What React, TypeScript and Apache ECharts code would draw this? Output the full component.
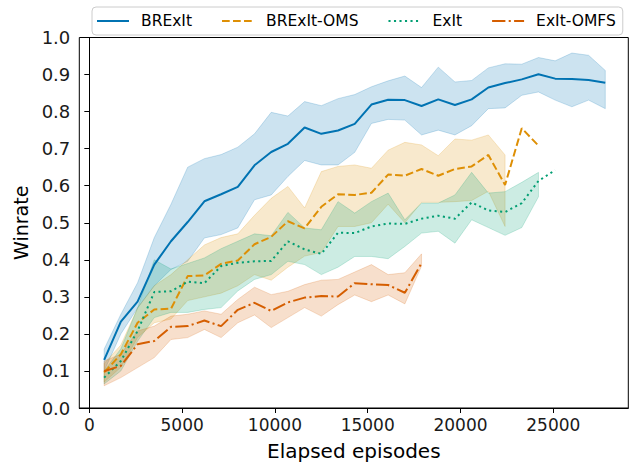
import React, { useEffect, useRef } from "react";
import * as echarts from "echarts";

const EPISODES = [800, 1700, 2600, 3500, 4400, 5300, 6200, 7100, 8000, 8900, 9800, 10700, 11600, 12500, 13400, 14300, 15200, 16100, 17000, 17900, 18800, 19700, 20600, 21500, 22400, 23300, 24200, 25100, 26000, 26900, 27800];
const X_TICKS = [0, 5000, 10000, 15000, 20000, 25000];

const brexitMean = [0.130, 0.233, 0.287, 0.387, 0.450, 0.502, 0.558, 0.577, 0.597, 0.655, 0.691, 0.713, 0.757, 0.740, 0.749, 0.767, 0.819, 0.832, 0.831, 0.815, 0.833, 0.818, 0.833, 0.865, 0.877, 0.887, 0.901, 0.889, 0.888, 0.885, 0.878];
const brexitLo = [0.100, 0.200, 0.270, 0.330, 0.374, 0.396, 0.459, 0.468, 0.486, 0.562, 0.575, 0.625, 0.668, 0.656, 0.656, 0.690, 0.768, 0.779, 0.777, 0.737, 0.750, 0.737, 0.762, 0.808, 0.810, 0.844, 0.853, 0.831, 0.813, 0.831, 0.808];
const brexitHi = [0.159, 0.253, 0.338, 0.460, 0.550, 0.650, 0.673, 0.684, 0.704, 0.740, 0.798, 0.788, 0.827, 0.816, 0.835, 0.846, 0.867, 0.883, 0.896, 0.865, 0.920, 0.880, 0.884, 0.918, 0.929, 0.928, 0.946, 0.937, 0.958, 0.952, 0.911];

const omsMean = [0.096, 0.145, 0.230, 0.266, 0.268, 0.356, 0.358, 0.389, 0.398, 0.442, 0.462, 0.504, 0.485, 0.543, 0.577, 0.575, 0.581, 0.630, 0.627, 0.645, 0.627, 0.645, 0.652, 0.683, 0.602, 0.755, 0.708];
const omsLo = [0.070, 0.110, 0.190, 0.230, 0.240, 0.290, 0.300, 0.310, 0.330, 0.360, 0.345, 0.380, 0.410, 0.420, 0.490, 0.490, 0.500, 0.550, 0.500, 0.555, 0.555, 0.557, 0.560, 0.585, 0.490];
const omsHi = [0.120, 0.170, 0.270, 0.330, 0.360, 0.400, 0.440, 0.460, 0.470, 0.520, 0.566, 0.598, 0.540, 0.638, 0.652, 0.656, 0.647, 0.696, 0.717, 0.710, 0.681, 0.726, 0.723, 0.737, 0.683];

const exitMean = [0.082, 0.127, 0.208, 0.313, 0.315, 0.341, 0.337, 0.383, 0.392, 0.396, 0.397, 0.450, 0.428, 0.416, 0.473, 0.472, 0.490, 0.498, 0.497, 0.511, 0.519, 0.511, 0.555, 0.533, 0.529, 0.553, 0.613, 0.642];
const exitLo = [0.065, 0.100, 0.180, 0.244, 0.258, 0.258, 0.266, 0.271, 0.316, 0.347, 0.360, 0.396, 0.387, 0.360, 0.380, 0.409, 0.409, 0.403, 0.436, 0.472, 0.477, 0.445, 0.508, 0.487, 0.466, 0.487, 0.570];
const exitHi = [0.100, 0.160, 0.270, 0.400, 0.375, 0.390, 0.405, 0.430, 0.450, 0.470, 0.465, 0.528, 0.486, 0.481, 0.557, 0.526, 0.557, 0.580, 0.508, 0.553, 0.553, 0.575, 0.636, 0.580, 0.584, 0.609, 0.636];

const omfsMean = [0.099, 0.114, 0.172, 0.181, 0.219, 0.221, 0.236, 0.221, 0.265, 0.284, 0.262, 0.285, 0.298, 0.302, 0.301, 0.337, 0.334, 0.332, 0.311, 0.391];
const omfsLo = [0.060, 0.082, 0.109, 0.136, 0.185, 0.190, 0.212, 0.190, 0.230, 0.251, 0.217, 0.244, 0.271, 0.248, 0.279, 0.305, 0.287, 0.305, 0.281, 0.383];
const omfsHi = [0.127, 0.145, 0.208, 0.221, 0.248, 0.253, 0.262, 0.253, 0.293, 0.326, 0.306, 0.315, 0.333, 0.345, 0.347, 0.367, 0.387, 0.360, 0.365, 0.416];

const BLUE = "#0173b2";
const ORANGE = "#de8f05";
const GREEN = "#029e73";
const RED = "#d55e00";
const FONT = "DejaVu Sans";

function band(name: string, lo: number[], hi: number[], color: string) {
  return {
    type: "custom",
    name: name + " band",
    silent: true,
    z: 1,
    data: lo.map((l, i) => [EPISODES[i], l, hi[i]]),
    encode: { x: 0, y: [1, 2] },
    renderItem: (params: any, api: any) => {
      if (params.dataIndex !== 0) return { type: "group", children: [] };
      const top = hi.map((h, i) => api.coord([EPISODES[i], h]));
      const bot = lo.map((l, i) => api.coord([EPISODES[i], l])).reverse();
      return {
        type: "polygon",
        shape: { points: top.concat(bot) },
        style: { fill: color, stroke: color, lineWidth: 1, opacity: 0.2 },
      };
    },
  };
}

function line(name: string, mean: number[], color: string, type: any) {
  return {
    type: "line",
    name,
    z: 3,
    symbol: "none",
    showSymbol: false,
    data: mean.map((v, i) => [EPISODES[i], v]),
    itemStyle: { color },
    lineStyle: { color, width: 2, type, cap: "butt" },
  };
}

export default function App() {
  const ref = useRef<HTMLDivElement>(null);
  useEffect(() => {
    const chart = echarts.init(ref.current!, null, { renderer: "svg" });
    chart.setOption({
      animation: false,
      backgroundColor: "#fff",
      textStyle: { fontFamily: FONT },
      grid: {
        left: 79.3,
        right: 5.7,
        top: 37.5,
        bottom: 55.3,
        show: true,
        borderColor: "#000",
        borderWidth: 1,
        backgroundColor: "transparent",
      },
      legend: {
        data: ["BRExIt", "BRExIt-OMS", "ExIt", "ExIt-OMFS"],
        left: 92,
        top: 7,
        orient: "horizontal",
        itemWidth: 32,
        itemHeight: 12,
        itemGap: 29,
        padding: [6, 7, 6, 4],
        borderColor: "#cccccc",
        borderWidth: 1,
        borderRadius: 4,
        backgroundColor: "rgba(255,255,255,0.8)",
        itemStyle: { opacity: 0, borderWidth: 0 },
        textStyle: { fontFamily: FONT, fontSize: 15.5, color: "#000", padding: [0, 0, 0, 7] },
      },
      xAxis: {
        type: "value",
        min: -540,
        max: 29040,
        name: "Elapsed episodes",
        nameLocation: "middle",
        nameGap: 33,
        nameTextStyle: { fontFamily: FONT, fontSize: 20, color: "#000" },
        axisLine: { show: true, lineStyle: { color: "#000", width: 1 } },
        axisTick: { show: true, length: 5, lineStyle: { color: "#000" }, customValues: X_TICKS },
        axisLabel: { fontFamily: FONT, fontSize: 17, color: "#1a1a1a", margin: 8, customValues: X_TICKS, formatter: (v: number) => String(v) },
        splitLine: { show: false },
      },
      yAxis: {
        type: "value",
        min: 0,
        max: 1,
        interval: 0.1,
        name: "Winrate",
        nameLocation: "middle",
        nameGap: 48,
        nameTextStyle: { fontFamily: FONT, fontSize: 19, color: "#000" },
        axisLine: { show: true, lineStyle: { color: "#000", width: 1 } },
        axisTick: { show: true, length: 5, lineStyle: { color: "#000" } },
        axisLabel: { fontFamily: FONT, fontSize: 18, color: "#1a1a1a", margin: 9, formatter: (v: number) => v.toFixed(1) },
        splitLine: { show: false },
      },
      series: [
        band("BRExIt", brexitLo, brexitHi, BLUE),
        band("BRExIt-OMS", omsLo, omsHi, ORANGE),
        band("ExIt", exitLo, exitHi, GREEN),
        band("ExIt-OMFS", omfsLo, omfsHi, RED),
        line("BRExIt", brexitMean, BLUE, "solid"),
        line("BRExIt-OMS", omsMean, ORANGE, [7.7, 3.3]),
        line("ExIt", exitMean, GREEN, [2.1, 3.4]),
        line("ExIt-OMFS", omfsMean, RED, [13.3, 3.3, 2.1, 3.3]),
      ],
    });
    return () => chart.dispose();
  }, []);
  return <div ref={ref} style={{ position: "absolute", left: 0, top: 0, width: 634, height: 466 }} />;
}
